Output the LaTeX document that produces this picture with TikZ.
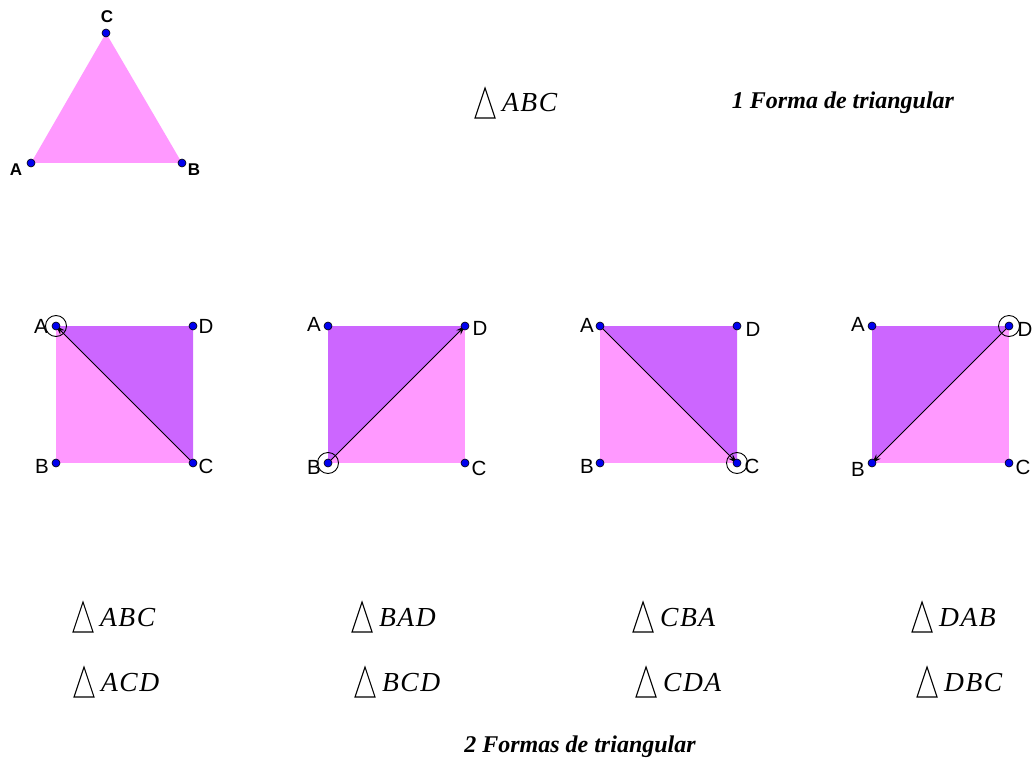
\documentclass[tikz,border=0pt]{standalone}
\usepackage{fontspec}
\setmainfont{Liberation Serif}
\setsansfont{Liberation Sans}
\usetikzlibrary{arrows.meta}
\definecolor{lpink}{HTML}{FF99FF}
\definecolor{lpurp}{HTML}{CC66FF}
\definecolor{dotblue}{HTML}{0000EE}
\newcommand{\trip}[3]{#1\kern1.5pt #2\kern1.5pt #3}
\tikzset{
  pt/.style={circle,fill=dotblue,draw=black,line width=0.6pt,inner sep=0pt,minimum size=8pt},
  lab/.style={font=\sffamily\fontsize{20.5}{20.5}\selectfont,inner sep=0pt},
  tlab/.style={font=\sffamily\bfseries\fontsize{17}{17}\selectfont,inner sep=0pt},
  mth/.style={font=\fontsize{27.5}{27.5}\selectfont\itshape,inner sep=0pt,anchor=base west},
  trisym/.style={line width=1.1pt,line join=miter},
  ttl/.style={font=\fontsize{24}{24}\selectfont\bfseries\itshape,inner sep=0pt},
  diag/.style={line width=1pt,-{Stealth[length=9pt,width=6pt]}},
  ring/.style={circle,draw=black,line width=0.9pt,minimum size=21pt,inner sep=0pt}
}
\newcommand{\tsym}[1]{\draw[trisym] ([shift={(-27,6)}]#1.base west) -- ++(10,-30) -- ++(10,30) -- cycle;}
\begin{document}
\begin{tikzpicture}[x=1pt,y=-1pt]
\useasboundingbox (0,0) rectangle (1035,762);
% top triangle
\coordinate (tA) at (31,163); \coordinate (tB) at (182,163); \coordinate (tC) at (106,33);
\fill[lpink] (tA) -- (tB) -- (tC) -- cycle;
\node[pt] at (tA) {}; \node[pt] at (tB) {}; \node[pt] at (tC) {};
\node[tlab] at (16,170) {A};
\node[tlab] at (194,170) {B};
\node[tlab] at (107,17) {C};
\node[mth] (t0) at (502,112) {\trip ABC}; \tsym{t0}
\node[ttl] (h1) at (843,103) {1 Forma de triangular};
% squares
\foreach \i/\x/\dark/\from/\to/\ring in {1/56/{(A)--(C)--(D)}/C/A/A, 2/328/{(A)--(B)--(D)}/B/D/B, 3/600/{(A)--(C)--(D)}/A/C/C, 4/872/{(A)--(B)--(D)}/D/B/D}{
  \begin{scope}[shift={(\x,0)}]
    \coordinate (A) at (0,326); \coordinate (D) at (137,326);
    \coordinate (B) at (0,463); \coordinate (C) at (137,463);
    \fill[lpink] (A) -- (B) -- (C) -- (D) -- cycle;
    \fill[lpurp] \dark -- cycle;
    \draw[diag] (\from) -- (\to);
    \node[ring] at (\ring) {};
    \node[pt] at (A) {}; \node[pt] at (B) {}; \node[pt] at (C) {}; \node[pt] at (D) {};
  \end{scope}
}
% labels square 1
\node[lab] at (41,326) {A}; \node[lab] at (206,326) {D};
\node[lab] at (42,466) {B}; \node[lab] at (206,466) {C};
% square 2
\node[lab] at (314,324) {A}; \node[lab] at (480,328) {D};
\node[lab] at (314,467) {B}; \node[lab] at (479,468) {C};
% square 3
\node[lab] at (587,325) {A}; \node[lab] at (753,329) {D};
\node[lab] at (587,466) {B}; \node[lab] at (752,466) {C};
% square 4
\node[lab] at (858,324) {A}; \node[lab] at (1025,329) {D};
\node[lab] at (858,469) {B}; \node[lab] at (1023,467) {C};
% bottom texts
\node[mth] (b1) at (100,626) {\trip ABC}; \tsym{b1}
\node[mth] (b2) at (379,626) {\trip BAD}; \tsym{b2}
\node[mth] (b3) at (660,626) {\trip CBA}; \tsym{b3}
\node[mth] (b4) at (939,626) {\trip DAB}; \tsym{b4}
\node[mth] (c1) at (101,691) {\trip ACD}; \tsym{c1}
\node[mth] (c2) at (382,691) {\trip BCD}; \tsym{c2}
\node[mth] (c3) at (663,691) {\trip CDA}; \tsym{c3}
\node[mth] (c4) at (944,691) {\trip DBC}; \tsym{c4}
\node[ttl] (h2) at (580,747) {2 Formas de triangular};
\end{tikzpicture}
\end{document}
